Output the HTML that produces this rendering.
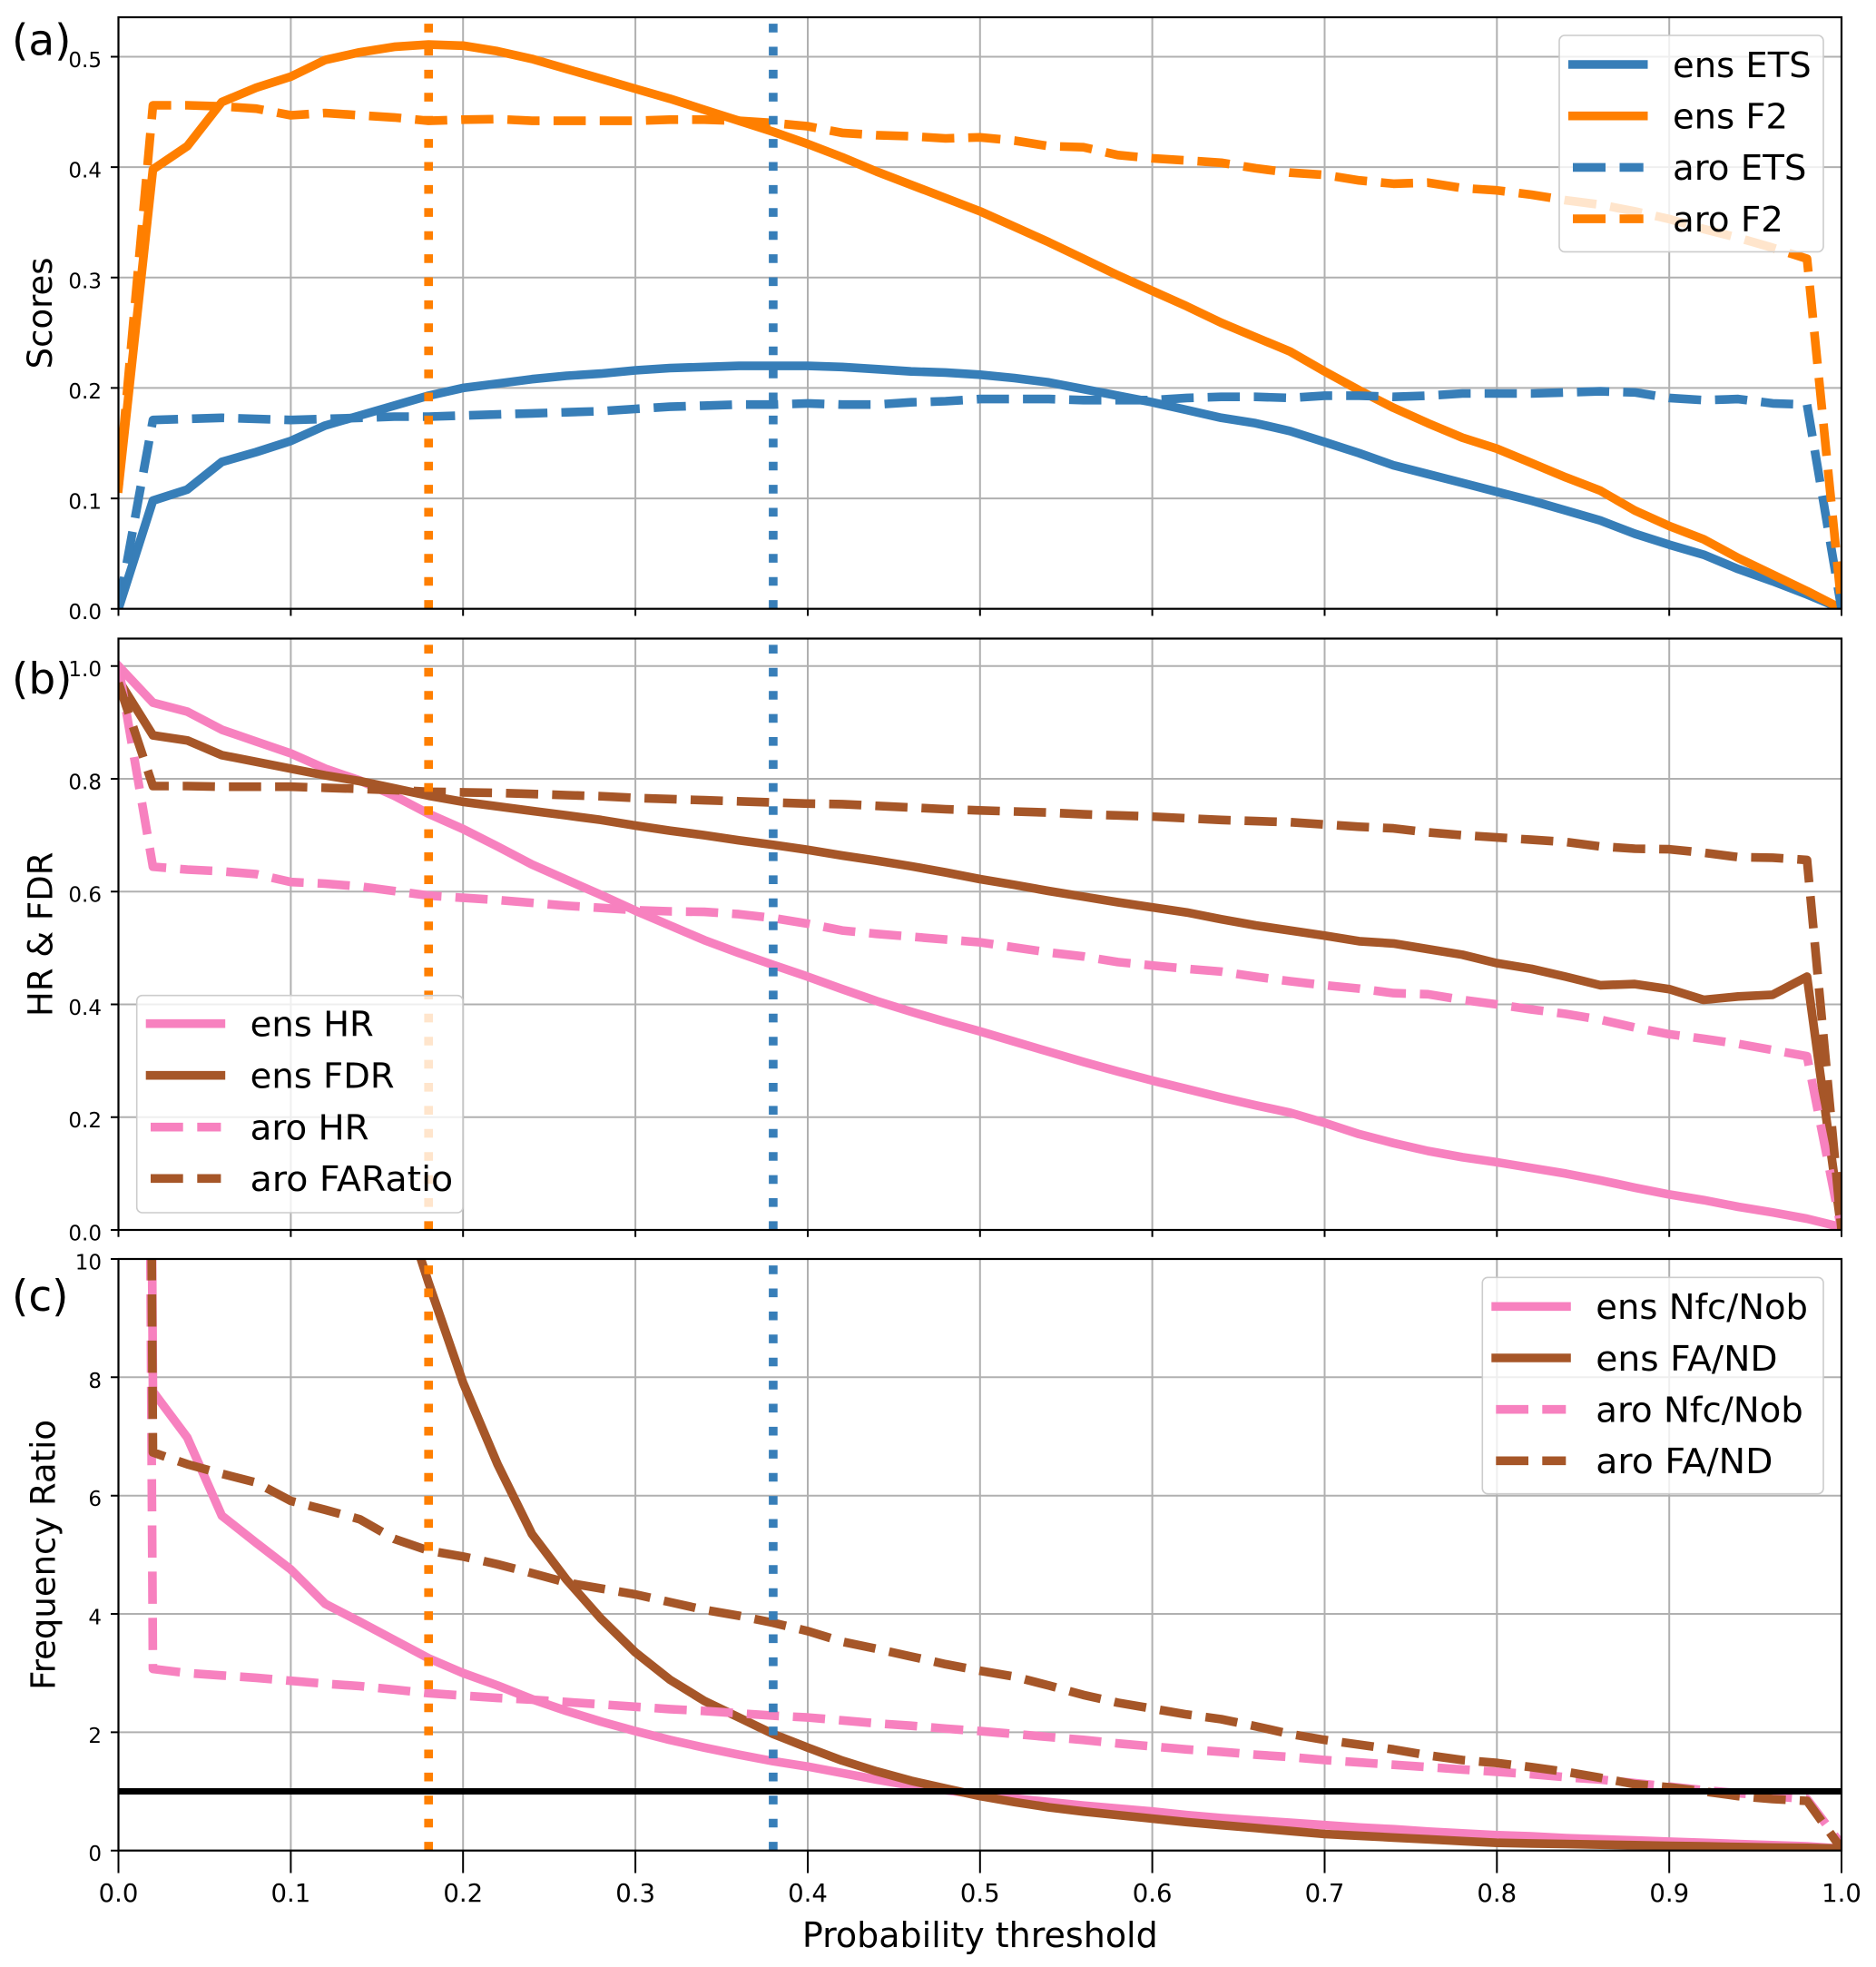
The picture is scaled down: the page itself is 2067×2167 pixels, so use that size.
<!DOCTYPE html>
<html>
<head>
<meta charset="utf-8">
<style>
html,body{margin:0;padding:0;background:#fff;}
svg{display:block;}
text{font-family:"DejaVu Sans","Liberation Sans",sans-serif;fill:#000;}
</style>
</head>
<body>
<svg width="2067" height="2167" viewBox="0 0 2067 2167" xmlns="http://www.w3.org/2000/svg">
<defs>
<clipPath id="ca"><rect x="130.5" y="19" width="1898.5" height="651.7"/></clipPath>
<clipPath id="cb"><rect x="130.5" y="703.5" width="1898.5" height="651.5"/></clipPath>
<clipPath id="cc"><rect x="130.5" y="1387" width="1898.5" height="651.7"/></clipPath>
</defs>
<rect width="2067" height="2167" fill="#fff"/>

<!-- ================= PANEL A ================= -->
<g stroke="#b0b0b0" stroke-width="2" fill="none">
<path d="M320.4 19V670.7M510.2 19V670.7M700.1 19V670.7M890 19V670.7M1079.8 19V670.7M1269.6 19V670.7M1459.5 19V670.7M1649.3 19V670.7M1839.2 19V670.7"/>
<path d="M130.5 549.1H2029M130.5 427.4H2029M130.5 305.8H2029M130.5 184.1H2029M130.5 62.5H2029"/>
</g>
<g clip-path="url(#ca)" fill="none" stroke-width="9.6" stroke-linejoin="round">
<polyline stroke="#377eb8" stroke-linecap="square" points="130.5,670.7 168.5,551.5 206.4,539.3 244.4,508.9 282.4,498.0 320.4,485.8 358.3,468.8 396.3,457.8 434.3,446.9 472.2,435.9 510.2,427.4 548.2,422.6 586.1,417.7 624.1,414.0 662.1,411.6 700.1,408.0 738.0,405.5 776.0,404.3 814.0,403.1 851.9,403.1 890.0,403.1 927.9,404.3 965.8,406.7 1003.8,409.2 1041.8,410.4 1079.8,412.8 1117.7,416.5 1155.7,421.3 1193.7,428.6 1231.6,435.9 1269.6,443.2 1307.6,451.7 1345.5,460.3 1383.5,466.3 1421.5,474.9 1459.5,487.0 1497.4,499.2 1535.4,512.6 1573.4,522.3 1611.3,532.0 1649.3,541.8 1687.3,551.5 1725.2,562.4 1763.2,573.4 1801.2,588.0 1839.2,600.1 1877.1,611.1 1915.1,626.9 1953.1,640.3 1991.0,654.9 2029.0,670.7"/>
<polyline stroke="#ff7f00" stroke-linecap="square" points="130.5,538.1 168.5,186.6 206.4,161.0 244.4,112.4 282.4,96.6 320.4,84.4 358.3,66.1 396.3,57.6 434.3,51.6 472.2,49.1 510.2,50.3 548.2,56.4 586.1,64.9 624.1,75.9 662.1,86.8 700.1,97.8 738.0,108.7 776.0,120.9 814.0,133.0 851.9,145.2 890.0,158.6 927.9,173.2 965.8,189.0 1003.8,203.6 1041.8,218.2 1079.8,232.8 1117.7,249.8 1155.7,266.9 1193.7,285.1 1231.6,303.3 1269.6,320.4 1307.6,337.4 1345.5,355.6 1383.5,371.5 1421.5,387.3 1459.5,409.2 1497.4,429.9 1535.4,449.3 1573.4,466.3 1611.3,482.2 1649.3,494.3 1687.3,510.1 1725.2,525.9 1763.2,540.5 1801.2,562.4 1839.2,579.5 1877.1,594.1 1915.1,614.7 1953.1,633.0 1991.0,651.2 2029.0,670.7"/>
<polyline stroke="#377eb8" stroke-dasharray="35.5 15.4" points="130.5,670.7 168.5,462.7 206.4,461.5 244.4,460.3 282.4,461.5 320.4,462.7 358.3,461.5 396.3,460.3 434.3,459.0 472.2,459.0 510.2,457.8 548.2,456.6 586.1,455.4 624.1,454.2 662.1,453.0 700.1,450.5 738.0,448.1 776.0,446.9 814.0,445.7 851.9,445.7 890.0,444.4 927.9,445.7 965.8,445.7 1003.8,443.2 1041.8,442.0 1079.8,439.6 1117.7,439.6 1155.7,439.6 1193.7,440.8 1231.6,440.8 1269.6,440.8 1307.6,438.4 1345.5,437.2 1383.5,437.2 1421.5,438.4 1459.5,435.9 1497.4,435.9 1535.4,437.2 1573.4,435.9 1611.3,433.5 1649.3,433.5 1687.3,433.5 1725.2,432.3 1763.2,431.1 1801.2,432.3 1839.2,438.4 1877.1,440.8 1915.1,439.6 1953.1,444.4 1991.0,445.7 2029.0,670.7"/>
<polyline stroke="#ff7f00" stroke-dasharray="35.5 15.4" points="130.5,536.9 168.5,116.0 206.4,116.0 244.4,117.2 282.4,119.7 320.4,127.0 358.3,124.5 396.3,127.0 434.3,129.4 472.2,133.1 510.2,131.8 548.2,131.2 586.1,133.1 624.1,133.1 662.1,133.1 700.1,133.1 738.0,131.8 776.0,131.8 814.0,133.1 851.9,135.5 890.0,139.1 927.9,146.4 965.8,148.9 1003.8,150.1 1041.8,152.5 1079.8,151.3 1117.7,154.9 1155.7,161.0 1193.7,162.2 1231.6,170.8 1269.6,174.4 1307.6,176.8 1345.5,179.3 1383.5,185.4 1421.5,190.2 1459.5,192.7 1497.4,198.7 1535.4,202.4 1573.4,201.2 1611.3,207.3 1649.3,209.7 1687.3,214.5 1725.2,220.6 1763.2,225.5 1801.2,232.8 1839.2,241.3 1877.1,252.3 1915.1,262.0 1953.1,272.9 1991.0,285.1 2029.0,667.1"/>
<line x1="472.2" y1="670.7" x2="472.2" y2="19" stroke="#ff7f00" stroke-dasharray="9.6 15.8"/>
<line x1="851.9" y1="670.7" x2="851.9" y2="19" stroke="#377eb8" stroke-dasharray="9.6 15.8"/>
</g>
<!-- legend a -->
<rect x="1718" y="39" width="291" height="238.4" rx="6" fill="#fff" fill-opacity="0.8" stroke="#cccccc" stroke-width="1.6"/>
<g stroke-width="9.6" fill="none">
<line x1="1728" y1="71" x2="1815.5" y2="71" stroke="#377eb8"/>
<line x1="1728" y1="127.7" x2="1815.5" y2="127.7" stroke="#ff7f00"/>
<path d="M1733 184.4H1769M1784.5 184.4H1810.7" stroke="#377eb8"/>
<path d="M1733 241.1H1769M1784.5 241.1H1810.7" stroke="#ff7f00"/>
</g>
<g font-size="38">
<text x="1843" y="84.8" textLength="152.7" lengthAdjust="spacingAndGlyphs">ens ETS</text>
<text x="1843" y="141.5" textLength="127" lengthAdjust="spacingAndGlyphs">ens F2</text>
<text x="1843" y="198.2" textLength="147.5" lengthAdjust="spacingAndGlyphs">aro ETS</text>
<text x="1843" y="254.9" textLength="121.9" lengthAdjust="spacingAndGlyphs">aro F2</text>
</g>
<rect x="130.5" y="19" width="1898.5" height="651.7" fill="none" stroke="#000" stroke-width="2.2"/>
<g stroke="#000" stroke-width="2">
<path d="M122 670.7H130.5M122 549.1H130.5M122 427.4H130.5M122 305.8H130.5M122 184.1H130.5M122 62.5H130.5"/>
<path d="M130.5 670.7V678.5M320.4 670.7V678.5M510.2 670.7V678.5M700.1 670.7V678.5M890 670.7V678.5M1079.8 670.7V678.5M1269.6 670.7V678.5M1459.5 670.7V678.5M1649.3 670.7V678.5M1839.2 670.7V678.5M2029 670.7V678.5"/>
</g>
<g font-size="23" text-anchor="end">
<text x="112" y="682.2">0.0</text><text x="112" y="560.6">0.1</text><text x="112" y="438.9">0.2</text><text x="112" y="317.3">0.3</text><text x="112" y="195.6">0.4</text><text x="112" y="74">0.5</text>
</g>
<text x="13" y="60.6" font-size="47">(a)</text>
<text transform="translate(57,344.9) rotate(-90)" text-anchor="middle" font-size="37">Scores</text>

<!-- ================= PANEL B ================= -->
<g stroke="#b0b0b0" stroke-width="2" fill="none">
<path d="M320.4 703.5V1355M510.2 703.5V1355M700.1 703.5V1355M890 703.5V1355M1079.8 703.5V1355M1269.6 703.5V1355M1459.5 703.5V1355M1649.3 703.5V1355M1839.2 703.5V1355"/>
<path d="M130.5 1230.7H2029M130.5 1106.5H2029M130.5 982.2H2029M130.5 858H2029M130.5 733.7H2029"/>
</g>
<g clip-path="url(#cb)" fill="none" stroke-width="9.6" stroke-linejoin="round">
<polyline stroke="#f781bf" stroke-linecap="square" points="130.5,733.7 168.5,774.1 206.4,784.0 244.4,803.9 282.4,817.0 320.4,830.0 358.3,846.8 396.3,859.8 434.3,876.6 472.2,896.5 510.2,913.3 548.2,932.5 586.1,952.4 624.1,969.2 662.1,985.9 700.1,1003.3 738.0,1019.5 776.0,1035.7 814.0,1049.9 851.9,1063.0 890.0,1076.0 927.9,1089.7 965.8,1102.8 1003.8,1114.6 1041.8,1125.7 1079.8,1136.3 1117.7,1147.5 1155.7,1158.7 1193.7,1169.9 1231.6,1180.4 1269.6,1190.4 1307.6,1199.7 1345.5,1209.0 1383.5,1217.7 1421.5,1225.8 1459.5,1237.0 1497.4,1249.4 1535.4,1259.3 1573.4,1268.0 1611.3,1274.9 1649.3,1280.4 1687.3,1286.7 1725.2,1292.9 1763.2,1300.3 1801.2,1308.4 1839.2,1315.9 1877.1,1322.1 1915.1,1329.5 1953.1,1335.7 1991.0,1342.6 2029.0,1351.9"/>
<polyline stroke="#a65628" stroke-linecap="square" points="130.5,749.2 168.5,810.1 206.4,815.7 244.4,831.9 282.4,839.3 320.4,846.8 358.3,854.2 396.3,860.5 434.3,868.5 472.2,876.6 510.2,883.4 548.2,888.4 586.1,893.4 624.1,898.3 662.1,903.3 700.1,909.5 738.0,915.1 776.0,920.1 814.0,925.7 851.9,930.7 890.0,936.2 927.9,942.5 965.8,948.1 1003.8,954.3 1041.8,961.1 1079.8,968.5 1117.7,974.8 1155.7,981.6 1193.7,987.8 1231.6,994.0 1269.6,999.6 1307.6,1005.2 1345.5,1012.7 1383.5,1019.5 1421.5,1025.1 1459.5,1030.7 1497.4,1036.9 1535.4,1039.4 1573.4,1045.6 1611.3,1051.8 1649.3,1061.1 1687.3,1067.3 1725.2,1076.0 1763.2,1085.4 1801.2,1084.1 1839.2,1089.7 1877.1,1101.5 1915.1,1097.8 1953.1,1095.9 1991.0,1076.0 2029.0,1355"/>
<polyline stroke="#f781bf" stroke-dasharray="35.5 15.4" points="130.5,733.7 168.5,954.9 206.4,958.0 244.4,959.9 282.4,963.0 320.4,971.7 358.3,973.5 396.3,976.6 434.3,981.6 472.2,986.6 510.2,989.1 548.2,991.5 586.1,994.6 624.1,997.8 662.1,1000.2 700.1,1002.7 738.0,1004.0 776.0,1004.6 814.0,1007.1 851.9,1011.4 890.0,1017.6 927.9,1025.1 965.8,1028.8 1003.8,1031.9 1041.8,1035.0 1079.8,1038.1 1117.7,1043.7 1155.7,1049.3 1193.7,1053.7 1231.6,1059.9 1269.6,1063.6 1307.6,1067.3 1345.5,1070.4 1383.5,1076.0 1421.5,1081.0 1459.5,1085.4 1497.4,1089.1 1535.4,1094.1 1573.4,1095.3 1611.3,1101.5 1649.3,1106.5 1687.3,1112.1 1725.2,1117.0 1763.2,1123.3 1801.2,1132.0 1839.2,1139.4 1877.1,1144.4 1915.1,1150.0 1953.1,1156.8 1991.0,1163.6 2029.0,1355"/>
<polyline stroke="#a65628" stroke-dasharray="35.5 15.4" points="130.5,752.3 168.5,866.0 206.4,866.0 244.4,866.7 282.4,866.7 320.4,866.7 358.3,867.9 396.3,869.1 434.3,870.4 472.2,872.3 510.2,872.9 548.2,873.5 586.1,874.7 624.1,876.0 662.1,877.2 700.1,879.1 738.0,880.3 776.0,881.6 814.0,882.8 851.9,884.1 890.0,885.3 927.9,885.9 965.8,887.8 1003.8,889.6 1041.8,891.5 1079.8,892.8 1117.7,894.0 1155.7,895.2 1193.7,897.1 1231.6,898.3 1269.6,899.6 1307.6,901.5 1345.5,903.3 1383.5,904.6 1421.5,905.8 1459.5,908.3 1497.4,910.8 1535.4,912.6 1573.4,917.0 1611.3,920.1 1649.3,922.6 1687.3,925.1 1725.2,927.6 1763.2,932.5 1801.2,935.0 1839.2,935.6 1877.1,939.4 1915.1,944.3 1953.1,944.9 1991.0,947.4 2029.0,1355"/>
<line x1="472.2" y1="1355" x2="472.2" y2="703.5" stroke="#ff7f00" stroke-dasharray="9.6 15.8"/>
<line x1="851.9" y1="1355" x2="851.9" y2="703.5" stroke="#377eb8" stroke-dasharray="9.6 15.8"/>
</g>
<!-- legend b -->
<rect x="150.7" y="1096.7" width="359.3" height="239.3" rx="6" fill="#fff" fill-opacity="0.8" stroke="#cccccc" stroke-width="1.6"/>
<g stroke-width="9.6" fill="none">
<line x1="160.7" y1="1127.7" x2="248.2" y2="1127.7" stroke="#f781bf"/>
<line x1="160.7" y1="1184.7" x2="248.2" y2="1184.7" stroke="#a65628"/>
<path d="M166 1241.7H201.7M217.3 1241.7H243.4" stroke="#f781bf"/>
<path d="M166 1298.3H201.7M217.3 1298.3H243.4" stroke="#a65628"/>
</g>
<g font-size="38">
<text x="275.7" y="1141.5" textLength="136.1" lengthAdjust="spacingAndGlyphs">ens HR</text>
<text x="275.7" y="1198.5" textLength="158.9" lengthAdjust="spacingAndGlyphs">ens FDR</text>
<text x="275.7" y="1255.5" textLength="130.9" lengthAdjust="spacingAndGlyphs">aro HR</text>
<text x="275.7" y="1312.1" textLength="223.5" lengthAdjust="spacingAndGlyphs">aro FARatio</text>
</g>
<rect x="130.5" y="703.5" width="1898.5" height="651.5" fill="none" stroke="#000" stroke-width="2.2"/>
<g stroke="#000" stroke-width="2">
<path d="M122 1355H130.5M122 1230.7H130.5M122 1106.5H130.5M122 982.2H130.5M122 858H130.5M122 733.7H130.5"/>
<path d="M130.5 1355V1362.8M320.4 1355V1362.8M510.2 1355V1362.8M700.1 1355V1362.8M890 1355V1362.8M1079.8 1355V1362.8M1269.6 1355V1362.8M1459.5 1355V1362.8M1649.3 1355V1362.8M1839.2 1355V1362.8M2029 1355V1362.8"/>
</g>
<g font-size="23" text-anchor="end">
<text x="112" y="1366.5">0.0</text><text x="112" y="1242.2">0.2</text><text x="112" y="1118">0.4</text><text x="112" y="993.7">0.6</text><text x="112" y="869.5">0.8</text><text x="112" y="745.2">1.0</text>
</g>
<text x="13" y="763.8" font-size="47">(b)</text>
<text transform="translate(57.5,1029.3) rotate(-90)" text-anchor="middle" font-size="37">HR &amp; FDR</text>

<!-- ================= PANEL C ================= -->
<g stroke="#b0b0b0" stroke-width="2" fill="none">
<path d="M320.4 1387V2038.7M510.2 1387V2038.7M700.1 1387V2038.7M890 1387V2038.7M1079.8 1387V2038.7M1269.6 1387V2038.7M1459.5 1387V2038.7M1649.3 1387V2038.7M1839.2 1387V2038.7"/>
<path d="M130.5 1908.4H2029M130.5 1778H2029M130.5 1647.7H2029M130.5 1517.3H2029M130.5 1387H2029"/>
</g>
<g clip-path="url(#cc)" fill="none" stroke-width="9.6" stroke-linejoin="round">
<polyline stroke="#f781bf" stroke-linecap="square" points="130.5,-4478.3 168.5,1533.0 206.4,1583.8 244.4,1669.8 282.4,1699.8 320.4,1729.1 358.3,1766.9 396.3,1786.5 434.3,1806.7 472.2,1826.9 510.2,1843.2 548.2,1856.9 586.1,1871.9 624.1,1884.9 662.1,1896.6 700.1,1907.1 738.0,1916.8 776.0,1925.3 814.0,1933.1 851.9,1940.3 890.0,1946.2 927.9,1953.3 965.8,1960.5 1003.8,1967.0 1041.8,1972.2 1079.8,1976.8 1117.7,1981.4 1155.7,1985.3 1193.7,1989.2 1231.6,1992.4 1269.6,1995.7 1307.6,1999.6 1345.5,2002.9 1383.5,2005.5 1421.5,2008.1 1459.5,2010.7 1497.4,2013.3 1535.4,2015.2 1573.4,2017.8 1611.3,2019.8 1649.3,2021.8 1687.3,2023.1 1725.2,2025.0 1763.2,2026.3 1801.2,2027.6 1839.2,2028.9 1877.1,2030.2 1915.1,2031.5 1953.1,2032.8 1991.0,2034.1 2029.0,2036.7"/>
<polyline stroke="#a65628" stroke-linecap="square" points="396.3,996.0 434.3,1295.8 472.2,1413.1 510.2,1523.2 548.2,1613.1 586.1,1690.0 624.1,1740.2 662.1,1783.2 700.1,1820.4 738.0,1850.4 776.0,1873.8 814.0,1892.1 851.9,1910.3 890.0,1925.3 927.9,1939.6 965.8,1951.4 1003.8,1961.8 1041.8,1970.3 1079.8,1978.7 1117.7,1985.3 1155.7,1991.1 1193.7,1995.7 1231.6,1999.6 1269.6,2003.5 1307.6,2007.4 1345.5,2010.7 1383.5,2013.9 1421.5,2017.2 1459.5,2020.5 1497.4,2022.4 1535.4,2024.4 1573.4,2026.3 1611.3,2028.3 1649.3,2030.2 1687.3,2030.9 1725.2,2031.5 1763.2,2032.2 1801.2,2032.8 1839.2,2033.5 1877.1,2034.1 1915.1,2034.8 1953.1,2035.4 1991.0,2035.8 2029.0,2036.7"/>
<polyline stroke="#f781bf" stroke-dasharray="35.5 15.4" points="130.5,-4478.3 168.5,1838.6 206.4,1843.2 244.4,1845.8 282.4,1848.4 320.4,1851.7 358.3,1854.9 396.3,1857.5 434.3,1861.4 472.2,1865.3 510.2,1868.0 548.2,1870.6 586.1,1872.5 624.1,1875.1 662.1,1877.7 700.1,1880.3 738.0,1882.9 776.0,1884.9 814.0,1887.5 851.9,1890.1 890.0,1892.1 927.9,1895.3 965.8,1898.6 1003.8,1901.2 1041.8,1904.4 1079.8,1907.1 1117.7,1910.3 1155.7,1913.6 1193.7,1916.8 1231.6,1920.7 1269.6,1924.0 1307.6,1927.3 1345.5,1929.9 1383.5,1933.1 1421.5,1935.7 1459.5,1939.0 1497.4,1941.6 1535.4,1944.2 1573.4,1946.8 1611.3,1949.4 1649.3,1952.0 1687.3,1954.6 1725.2,1957.9 1763.2,1960.5 1801.2,1964.4 1839.2,1968.3 1877.1,1972.2 1915.1,1975.5 1953.1,1978.7 1991.0,1982.0 2029.0,2032.2"/>
<polyline stroke="#a65628" stroke-dasharray="35.5 15.4" points="130.5,-4478.3 168.5,1600.1 206.4,1613.1 244.4,1623.6 282.4,1633.3 320.4,1653.5 358.3,1663.3 396.3,1673.7 434.3,1695.3 472.2,1708.3 510.2,1714.8 548.2,1723.3 586.1,1733.1 624.1,1743.5 662.1,1750.0 700.1,1756.5 738.0,1765.0 776.0,1773.5 814.0,1780.0 851.9,1787.8 890.0,1796.9 927.9,1808.6 965.8,1816.5 1003.8,1824.9 1041.8,1833.4 1079.8,1840.6 1117.7,1847.1 1155.7,1856.9 1193.7,1867.3 1231.6,1875.8 1269.6,1882.3 1307.6,1888.8 1345.5,1894.0 1383.5,1901.8 1421.5,1910.3 1459.5,1916.8 1497.4,1922.0 1535.4,1927.3 1573.4,1933.8 1611.3,1939.0 1649.3,1942.2 1687.3,1946.8 1725.2,1952.0 1763.2,1958.5 1801.2,1965.7 1839.2,1969.0 1877.1,1973.5 1915.1,1978.7 1953.1,1982.0 1991.0,1984.0 2029.0,2036.7"/>
<line x1="472.2" y1="2038.7" x2="472.2" y2="1387" stroke="#ff7f00" stroke-dasharray="9.6 15.8"/>
<line x1="851.9" y1="2038.7" x2="851.9" y2="1387" stroke="#377eb8" stroke-dasharray="9.6 15.8"/>
<line x1="130.5" y1="1973.5" x2="2029" y2="1973.5" stroke="#000" stroke-width="7"/>
</g>
<!-- legend c -->
<rect x="1633.3" y="1407.3" width="375.7" height="238.4" rx="6" fill="#fff" fill-opacity="0.8" stroke="#cccccc" stroke-width="1.6"/>
<g stroke-width="9.6" fill="none">
<line x1="1643.3" y1="1439.3" x2="1730.8" y2="1439.3" stroke="#f781bf"/>
<line x1="1643.3" y1="1496" x2="1730.8" y2="1496" stroke="#a65628"/>
<path d="M1648.3 1552.7H1684M1699.3 1552.7H1725.3" stroke="#f781bf"/>
<path d="M1648.3 1609.3H1684M1699.3 1609.3H1725.3" stroke="#a65628"/>
</g>
<g font-size="38">
<text x="1758.3" y="1453.1" textLength="233.7" lengthAdjust="spacingAndGlyphs">ens Nfc/Nob</text>
<text x="1758.3" y="1509.8" textLength="200.3" lengthAdjust="spacingAndGlyphs">ens FA/ND</text>
<text x="1758.3" y="1566.5" textLength="228.5" lengthAdjust="spacingAndGlyphs">aro Nfc/Nob</text>
<text x="1758.3" y="1623.1" textLength="195.1" lengthAdjust="spacingAndGlyphs">aro FA/ND</text>
</g>
<rect x="130.5" y="1387" width="1898.5" height="651.7" fill="none" stroke="#000" stroke-width="2.2"/>
<g stroke="#000" stroke-width="2">
<path d="M122 2038.7H130.5M122 1908.4H130.5M122 1778H130.5M122 1647.7H130.5M122 1517.3H130.5M122 1387H130.5"/>
<path d="M130.5 2038.7V2063.5M320.4 2038.7V2063.5M510.2 2038.7V2063.5M700.1 2038.7V2063.5M890 2038.7V2063.5M1079.8 2038.7V2063.5M1269.6 2038.7V2063.5M1459.5 2038.7V2063.5M1649.3 2038.7V2063.5M1839.2 2038.7V2063.5M2029 2038.7V2063.5"/>
</g>
<g font-size="23" text-anchor="end">
<text x="112" y="2050.2">0</text><text x="112" y="1919.9">2</text><text x="112" y="1789.5">4</text><text x="112" y="1659.2">6</text><text x="112" y="1528.8">8</text><text x="112" y="1398.5">10</text>
</g>
<g font-size="27.5" text-anchor="middle">
<text x="130.5" y="2095">0.0</text><text x="320.4" y="2095">0.1</text><text x="510.2" y="2095">0.2</text><text x="700.1" y="2095">0.3</text><text x="890" y="2095">0.4</text><text x="1079.8" y="2095">0.5</text><text x="1269.6" y="2095">0.6</text><text x="1459.5" y="2095">0.7</text><text x="1649.3" y="2095">0.8</text><text x="1839.2" y="2095">0.9</text><text x="2029" y="2095">1.0</text>
</g>
<text x="13" y="1443.8" font-size="47">(c)</text>
<text transform="translate(60.5,1712.9) rotate(-90)" text-anchor="middle" font-size="37">Frequency Ratio</text>
<text x="1079.8" y="2145" text-anchor="middle" font-size="38">Probability threshold</text>
</svg>
</body>
</html>
